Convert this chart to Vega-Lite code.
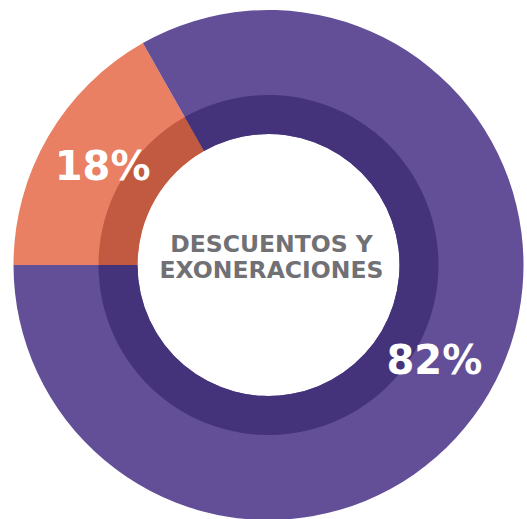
{
  "$schema": "https://vega.github.io/schema/vega-lite/v6.json",
  "width": 527,
  "height": 519,
  "autosize": {"type": "fit", "contains": "padding"},
  "padding": {"left": 10, "top": 11, "right": 0, "bottom": 0},
  "background": "white",
  "view": {"stroke": null},
  "data": {
    "values": [
      {"category": "Descuentos", "share": 16.8, "label": "18%", "order": 1},
      {"category": "Exoneraciones", "share": 83.2, "label": "82%", "order": 2}
    ]
  },
  "encoding": {
    "theta": {"field": "share", "type": "quantitative", "stack": true, "scale": {"range": [4.71239, 10.99557]}},
    "order": {"field": "order", "type": "quantitative"}
  },
  "layer": [
    {
      "mark": {"type": "arc", "radius": 255, "radius2": 131},
      "encoding": {
        "color": {"field": "category", "type": "nominal", "scale": {"domain": ["Descuentos", "Exoneraciones"], "range": ["#EA8063", "#634F98"]}, "legend": null}
      }
    },
    {
      "mark": {"type": "arc", "radius": 170, "radius2": 131},
      "encoding": {
        "color": {"field": "category", "type": "nominal", "scale": {"domain": ["Descuentos", "Exoneraciones"], "range": ["#C15A41", "#44337A"]}, "legend": null}
      }
    },
    {
      "mark": {"type": "text", "radius": 192, "font": "DejaVu Sans", "fontWeight": "bold", "fontSize": 40, "fill": "white", "align": "center", "baseline": "middle"},
      "encoding": {"text": {"field": "label"}}
    },
    {
      "data": {"values": [{"title": ["DESCUENTOS Y", "EXONERACIONES"]}]},
      "mark": {"type": "text", "font": "DejaVu Sans", "fontWeight": "bold", "fontSize": 23.5, "fill": "#707075", "align": "center", "baseline": "middle", "lineHeight": 26, "dx": 3, "dy": -20},
      "encoding": {"text": {"field": "title"}, "theta": null, "order": null}
    }
  ],
  "resolve": {"scale": {"color": "independent"}}
}
